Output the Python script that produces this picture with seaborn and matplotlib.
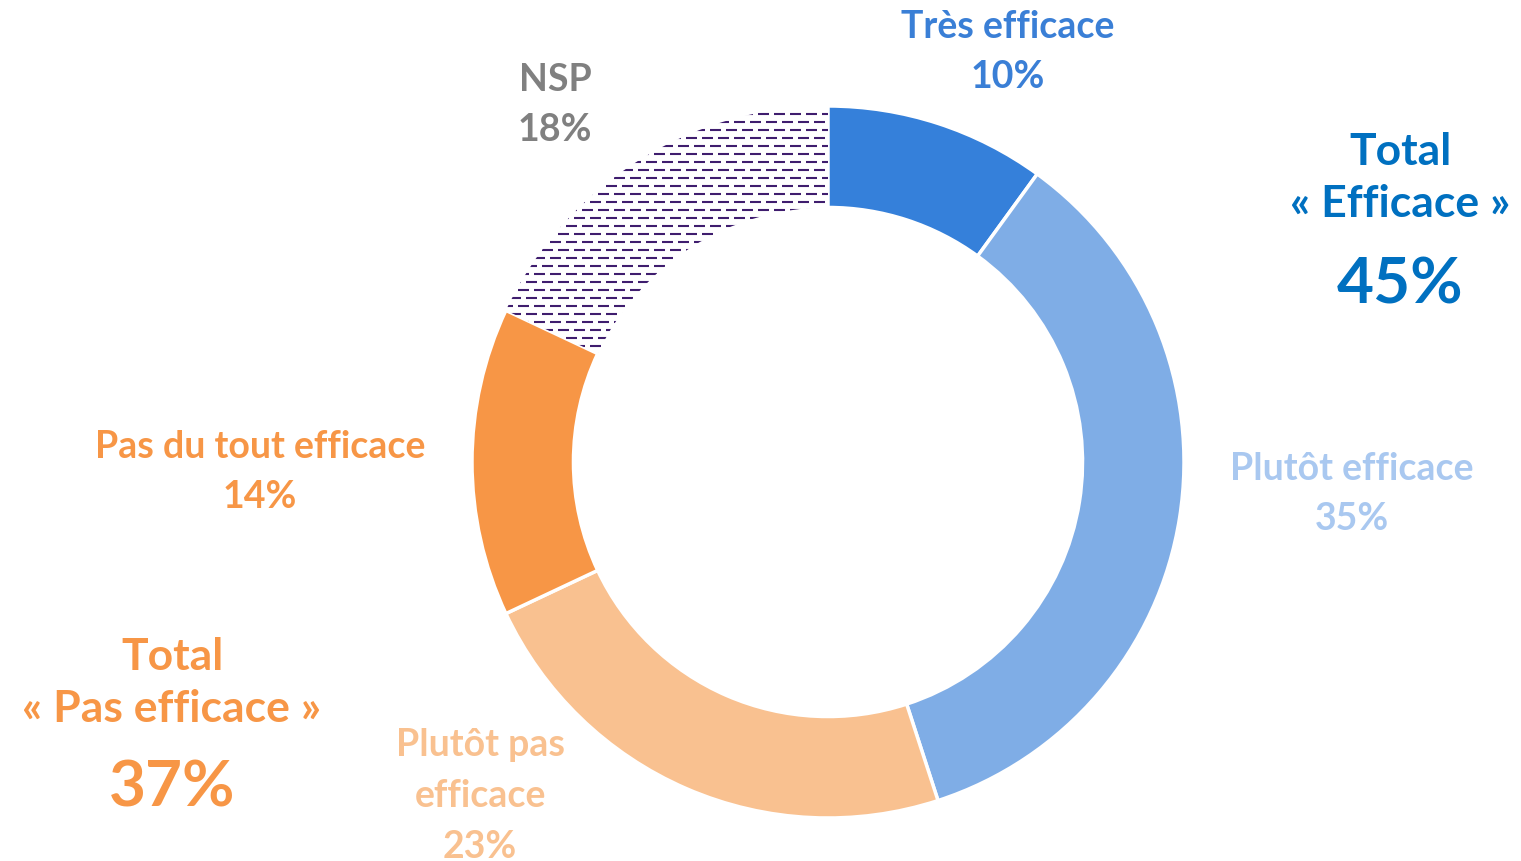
import numpy as np
import matplotlib
matplotlib.use("Agg")
import matplotlib.pyplot as plt
import seaborn as sns

# Data
categories = ["Très efficace", "Plutôt efficace", "Plutôt pas efficace", "Pas du tout efficace", "NSP"]
values = [10, 35, 23, 14, 18]
wedge_colors = ["#3580DA", "#7FADE6", "#F9C190", "#F79646", "#FFFFFF"]
label_texts = ["Très efficace\n10%", "Plutôt efficace\n35%", "Plutôt pas\nefficace\n23%",
               "Pas du tout efficace\n14%", "NSP\n18%"]
label_colors = ["#3A7FD6", "#A9C8F0", "#F9C190", "#F79646", "#808080"]
total_names = ["Total\n« Efficace »", "Total\n« Pas efficace »"]
total_values = ["45%", "37%"]
total_colors = ["#0070C0", "#F79646"]

W, H = 1521, 862
sns.set_theme(style="white")
plt.rcParams['font.family'] = ['Lato', 'DejaVu Sans']

fig = plt.figure(figsize=(W / 100, H / 100), dpi=100)
cx, cy, r = 828, 463, 356
ax = fig.add_axes([(cx - r) / W, (H - cy - r) / H, 2 * r / W, 2 * r / H])

wedges, _ = ax.pie(values, colors=wedge_colors, startangle=90, counterclock=False,
                   radius=1, wedgeprops=dict(width=0.285, edgecolor="white", linewidth=2.5))
ax.set_xlim(-1, 1)
ax.set_ylim(-1, 1)
ax.set_aspect("equal")
ax.axis("off")

# dashed hatch for NSP
nsp = wedges[4]
nsp.set_edgecolor("none")
step = 8 / r
lw = 1.5
on, off = 11 * 0.72 / lw, 5 * 0.72 / lw
for i, yy in enumerate(np.arange(-1, 1, step)):
    ln, = ax.plot([-1.05, 0.0], [yy, yy], color="#3F1D6E", lw=lw, dash_capstyle="butt",
                  linestyle=(0 if i % 2 == 0 else (on + off) / 2, (on, off)))
    ln.set_clip_path(nsp)


def px(x, y):
    return x / W, 1 - y / H


label_pos = [(1008, 52), (1352, 494), (480, 796), (260, 472), (555, 105)]
for txt, col, (x, y) in zip(label_texts, label_colors, label_pos):
    fig.text(*px(x, y), txt, ha="center", va="center", color=col, fontsize=27,
             fontweight="bold", linespacing=1.6)

total_pos = [(1400, 178, 285), (172, 683, 788)]
for name, val, col, (x, y1, y2) in zip(total_names, total_values, total_colors, total_pos):
    fig.text(*px(x, y1), name, ha="center", va="center", color=col, fontsize=32,
             fontweight="bold", linespacing=1.35)
    fig.text(*px(x, y2), val, ha="center", va="center", color=col, fontsize=46,
             fontweight="bold")

fig.savefig("out.png", dpi=100, facecolor="white")
